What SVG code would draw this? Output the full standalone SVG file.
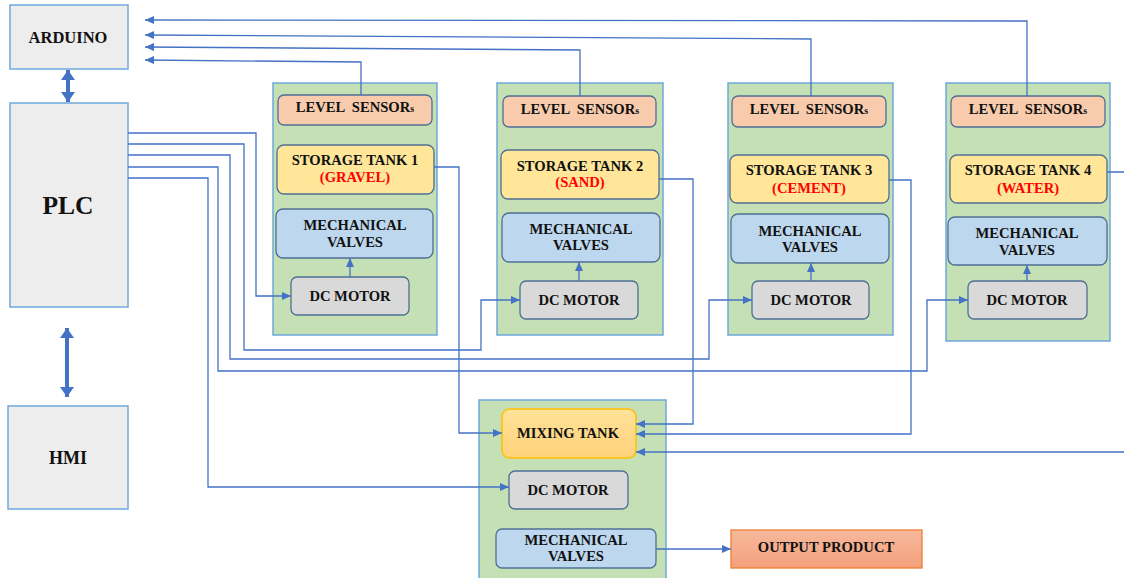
<svg xmlns="http://www.w3.org/2000/svg" width="1124" height="578" viewBox="0 0 1124 578" xml:space="preserve">
<defs>
<marker id="ah" markerUnits="userSpaceOnUse" markerWidth="10" markerHeight="8" refX="9" refY="4" orient="auto"><path d="M0,0 L9,4 L0,8 z" fill="#4472C4"/></marker>
<marker id="big" markerUnits="userSpaceOnUse" markerWidth="12" markerHeight="14" refX="10" refY="7" orient="auto-start-reverse"><path d="M0,0 L10,7 L0,14 z" fill="#4472C4"/></marker>
<linearGradient id="gMix" x1="0" y1="0" x2="0" y2="1"><stop offset="0" stop-color="#FFE29A"/><stop offset="1" stop-color="#FFD27A"/></linearGradient>
<linearGradient id="gOut" x1="0" y1="0" x2="0" y2="1"><stop offset="0" stop-color="#F7B99C"/><stop offset="1" stop-color="#F4A07C"/></linearGradient>
</defs>
<style>
text{font-family:"Liberation Serif","Times New Roman",serif;font-weight:bold;fill:#111;text-anchor:middle;white-space:pre}
.t{font-size:14.6px}
.sub{font-size:10px}
.red{fill:#FF0000}
.main{fill:#EDEDED;stroke:#6FA8DC;stroke-width:1.5}
.grp{fill:#C5E0B4;stroke:#6FA8DC;stroke-width:1.5}
.ls{fill:#F8CBAD;stroke:#4F6F95;stroke-width:1.3}
.st{fill:#FFE699;stroke:#4F6F95;stroke-width:1.3}
.mv{fill:#BDD7EE;stroke:#4F6F95;stroke-width:1.3}
.dc{fill:#D9D9D9;stroke:#4F6F95;stroke-width:1.3}
.c{fill:none;stroke:#4472C4;stroke-width:1.3}
.cb{fill:none;stroke:#4472C4;stroke-width:4}
</style>

<g id="arduino"><rect class="main" x="10" y="5" width="118" height="64"/><text x="68" y="43" style="font-size:16.5px">ARDUINO</text></g>
<g id="plc"><rect class="main" x="10" y="103" width="118" height="204"/><text x="68" y="214" style="font-size:25.5px">PLC</text></g>
<g id="hmi"><rect class="main" x="8" y="406" width="120" height="103"/><text x="68" y="464" style="font-size:18px">HMI</text></g>

<g id="tank1-unit">
<rect class="grp" x="273" y="83" width="164" height="252"/>
<g id="ls1"><rect class="ls" x="278" y="95" width="154" height="30" rx="6"/><text class="t" x="355" y="112">LEVEL  SENSOR<tspan class="sub">s</tspan></text></g>
<g id="st1"><rect class="st" x="277" y="145" width="157" height="49" rx="7"/><text class="t" x="355" y="165">STORAGE TANK 1</text><text class="t red" x="355" y="182">(GRAVEL)</text></g>
<g id="mv1"><rect class="mv" x="276" y="209" width="157" height="49" rx="7"/><text class="t" x="355" y="230">MECHANICAL</text><text class="t" x="355" y="247">VALVES</text></g>
<g id="dc1"><rect class="dc" x="291" y="277" width="118" height="38" rx="6"/><text class="t" x="350" y="301">DC MOTOR</text></g>
</g>

<g id="tank2-unit">
<rect class="grp" x="497" y="83" width="166" height="252"/>
<g id="ls2"><rect class="ls" x="503" y="96" width="153" height="31" rx="6"/><text class="t" x="580" y="114">LEVEL  SENSOR<tspan class="sub">s</tspan></text></g>
<g id="st2"><rect class="st" x="501" y="150" width="158" height="49" rx="7"/><text class="t" x="580" y="171">STORAGE TANK 2</text><text class="t red" x="580" y="187">(SAND)</text></g>
<g id="mv2"><rect class="mv" x="502" y="213" width="158" height="49" rx="7"/><text class="t" x="581" y="234">MECHANICAL</text><text class="t" x="581" y="250">VALVES</text></g>
<g id="dc2"><rect class="dc" x="520" y="281" width="118" height="38" rx="6"/><text class="t" x="579" y="305">DC MOTOR</text></g>
</g>

<g id="tank3-unit">
<rect class="grp" x="728" y="83" width="165" height="252"/>
<g id="ls3"><rect class="ls" x="732" y="96" width="154" height="31" rx="6"/><text class="t" x="809" y="114">LEVEL  SENSOR<tspan class="sub">s</tspan></text></g>
<g id="st3"><rect class="st" x="730" y="155" width="159" height="48" rx="7"/><text class="t" x="809" y="175">STORAGE TANK 3</text><text class="t red" x="809" y="193">(CEMENT)</text></g>
<g id="mv3"><rect class="mv" x="731" y="214" width="158" height="49" rx="7"/><text class="t" x="810" y="236">MECHANICAL</text><text class="t" x="810" y="252">VALVES</text></g>
<g id="dc3"><rect class="dc" x="752" y="281" width="117" height="38" rx="6"/><text class="t" x="811" y="305">DC MOTOR</text></g>
</g>

<g id="tank4-unit">
<rect class="grp" x="946" y="83" width="164" height="258"/>
<g id="ls4"><rect class="ls" x="951" y="96" width="154" height="31" rx="6"/><text class="t" x="1028" y="114">LEVEL  SENSOR<tspan class="sub">s</tspan></text></g>
<g id="st4"><rect class="st" x="950" y="155" width="157" height="48" rx="7"/><text class="t" x="1028" y="175">STORAGE TANK 4</text><text class="t red" x="1028" y="193">(WATER)</text></g>
<g id="mv4"><rect class="mv" x="948" y="217" width="159" height="48" rx="7"/><text class="t" x="1027" y="238">MECHANICAL</text><text class="t" x="1027" y="255">VALVES</text></g>
<g id="dc4"><rect class="dc" x="968" y="281" width="119" height="38" rx="6"/><text class="t" x="1027" y="305">DC MOTOR</text></g>
</g>

<g id="mixing-unit">
<rect class="grp" x="479" y="400" width="187" height="182"/>
<g id="mixtank"><rect x="502" y="409" width="134" height="49" rx="8" fill="url(#gMix)" stroke="#FFC000" stroke-width="1.5"/><text class="t" x="568" y="438">MIXING TANK</text></g>
<g id="dcmix"><rect class="dc" x="509" y="471" width="119" height="38" rx="6"/><text class="t" x="568" y="495">DC MOTOR</text></g>
<g id="mvmix"><rect class="mv" x="496" y="529" width="160" height="39" rx="6"/><text class="t" x="576" y="545">MECHANICAL</text><text class="t" x="576" y="561">VALVES</text></g>
</g>

<g id="output"><rect x="731" y="530" width="191" height="38" fill="url(#gOut)" stroke="#ED7D31" stroke-width="1.3"/><text class="t" x="826" y="552">OUTPUT PRODUCT</text></g>

<g id="connectors">
<path class="cb" d="M68,70 V102" marker-start="url(#big)" marker-end="url(#big)"/>
<path class="cb" d="M67,328 V397" marker-start="url(#big)" marker-end="url(#big)"/>
<path class="c" d="M1027,96 V21 L145,20" marker-end="url(#ah)"/>
<path class="c" d="M811,96 V39 L145,35" marker-end="url(#ah)"/>
<path class="c" d="M580,96 V50 L145,47" marker-end="url(#ah)"/>
<path class="c" d="M361,95 V62 L145,60" marker-end="url(#ah)"/>
<path class="c" d="M128,133 H256 V296 H291" marker-end="url(#ah)"/>
<path class="c" d="M128,144 H244 V350 H481 V300 H520" marker-end="url(#ah)"/>
<path class="c" d="M128,155 H230 V359 H709 V300 H752" marker-end="url(#ah)"/>
<path class="c" d="M128,167 H218 V371 H927 V300 H968" marker-end="url(#ah)"/>
<path class="c" d="M128,178 H208 V487 H509" marker-end="url(#ah)"/>
<path class="c" d="M350,277 V258" marker-end="url(#ah)"/>
<path class="c" d="M579,281 V262" marker-end="url(#ah)"/>
<path class="c" d="M811,281 V263" marker-end="url(#ah)"/>
<path class="c" d="M1027,281 V265" marker-end="url(#ah)"/>
<path class="c" d="M434,167 H459 V433 H502" marker-end="url(#ah)"/>
<path class="c" d="M659,179 H693 V424 H636" marker-end="url(#ah)"/>
<path class="c" d="M889,180 H911 V434 H636" marker-end="url(#ah)"/>
<path class="c" d="M1107,172 H1130 V452 H636" marker-end="url(#ah)"/>
<path class="c" d="M656,549 H731" marker-end="url(#ah)"/>
</g>
</svg>
